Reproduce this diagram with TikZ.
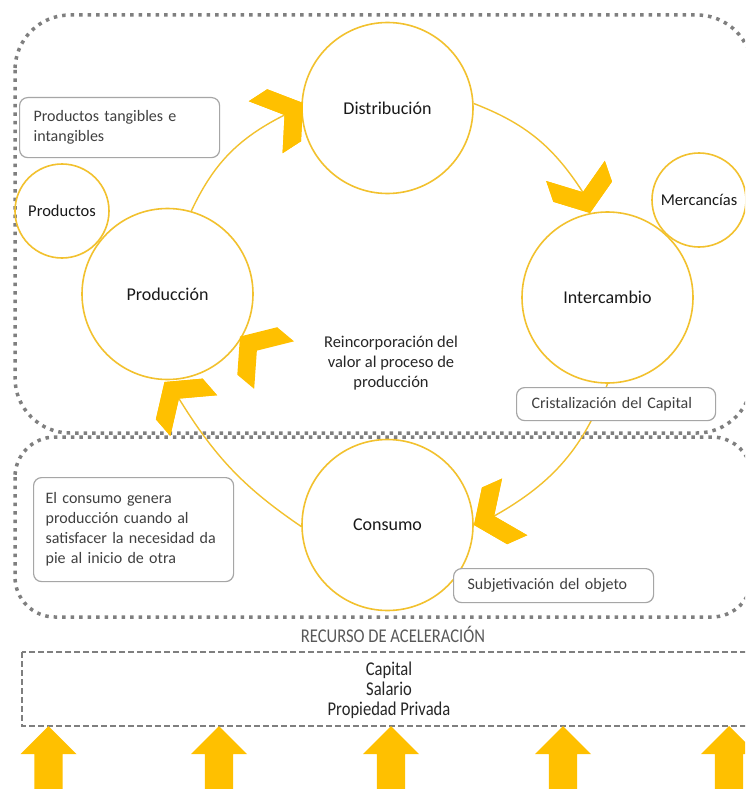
\documentclass[tikz,border=0pt]{standalone}
\usepackage{fontspec}
\setmainfont{Carlito}
\newfontfamily\condfont[FakeStretch=0.85]{Carlito}
\definecolor{gold}{HTML}{FFC000}
\definecolor{ring}{HTML}{F2C12E}
\definecolor{dotgray}{HTML}{7F7F7F}
\definecolor{notegray}{HTML}{A6A6A6}
\definecolor{txt}{HTML}{404040}
\begin{document}
\begin{tikzpicture}[x=1pt,y=-1pt,
  bigc/.style={circle, draw=ring, line width=1.6pt, minimum size=171pt, inner sep=0pt,
    font=\fontsize{18}{21}\selectfont, text=black!90},
  smallc/.style={circle, draw=ring, line width=1.6pt, minimum size=94pt, inner sep=0pt,
    font=\fontsize{16.5}{20}\selectfont, text=black!90},
  conn/.style={draw=ring, line width=1.4pt},
  note/.style={draw=notegray, line width=1.2pt, rounded corners=8pt, fill=white, align=left,
    font=\fontsize{16}{20}\selectfont, text=txt, anchor=north west},
  dotbox/.style={draw=dotgray, line width=3.5pt, dash pattern=on 3.5pt off 5pt},
  dashbox/.style={draw=dotgray, line width=1.3pt, dash pattern=on 6pt off 3pt},
  chev/.pic={\fill[gold] (0,0) -- (-22.5,31) -- (-44.5,31) -- (-22,0) -- (-44.5,-31) -- (-22.5,-31) -- cycle;
    \coordinate (-in) at (-22,0);},
  uparrow/.pic={\fill[gold] (0,0) -- (28,28) -- (14.2,28) -- (14.2,70) -- (-14.2,70) -- (-14.2,28) -- (-28,28) -- cycle;}
]
\path[use as bounding box, fill=white] (0,0) rectangle (745,789);
\clip (0,0) rectangle (745,789);

% dotted regions
\draw[dotbox, rounded corners=55pt] (15,15) rectangle (752,433);
\draw[dotbox, rounded corners=40pt] (15,437) rectangle (752,617);

% circles
\node[bigc] (dist) at (387.5,108) {Distribución};
\node[bigc] (prod) at (167.5,294) {Producción};
\node[bigc] (inter) at (607.5,297.5) {Intercambio};
\node[bigc] (cons) at (387.5,525) {Consumo};
\node[smallc] (prods) at (62,211) {Productos};
\node[smallc] (merc) at (699,200) {Mercancías};

% chevrons (positions)
\pic[rotate=33] (ch1) at (303,103) {chev};
\pic[rotate=-71] (ch2) at (590,213) {chev};
\pic[rotate=204] (ch3) at (474,525) {chev};
\pic[rotate=131] (ch4) at (164.5,382) {chev};

% connectors
\draw[conn] (prod.74) to[bend left=19] (ch1-in);
\draw[conn] (dist.3) to[bend left=18] (ch2-in);
\draw[conn] (inter.270) to[bend left=20] (ch3-in);
\draw[conn] (cons.181) to[bend left=12] (ch4-in);

% redraw chevrons on top of connectors
\pic[rotate=33] at (303,103) {chev};
\pic[rotate=-71] at (590,213) {chev};
\pic[rotate=204] at (474,525) {chev};
\pic[rotate=131] at (164.5,382) {chev};
\pic[rotate=140] (ch5) at (240,336.5) {chev};

% notes
\node[note, minimum width=200pt, minimum height=60pt, text width=172pt, inner xsep=14pt] (ptang) at (19,97)
  {Productos tangibles e\\intangibles};
\node[note, minimum width=199pt, minimum height=33pt, text width=169pt, inner xsep=15pt, inner ysep=0pt] (crist) at (516,387)
  {Cristalización del Capital};
\node[note, minimum width=200pt, minimum height=34pt, text width=172pt, inner xsep=14pt, inner ysep=0pt] (subj) at (453,568)
  {Subjetivación del objeto};
\node[note, minimum width=199pt, minimum height=104pt, text width=176pt, inner xsep=12pt] (econs) at (33,477)
  {El consumo genera\\producción cuando al\\satisfacer la necesidad da\\pie al inicio de otra};

\node[align=center, font=\fontsize{16.5}{20}\selectfont, text=black!85] (reinc) at (391,363)
  {Reincorporación del\\valor al proceso de\\producción};

% acceleration resource
\node[font=\condfont\fontsize{19.5}{20}\selectfont, text=black!65] (recurso) at (393,634) {RECURSO DE ACELERACIÓN};
\draw[dashbox] (22,652) rectangle (760,726);
\node[align=center, font=\condfont\fontsize{19.5}{20}\selectfont, text=black!85] (capital) at (389,690)
  {Capital\\Salario\\Propiedad Privada};

\foreach \cx in {48.5,219,391,563,729}{
  \pic at (\cx,726) {uparrow};
}
\end{tikzpicture}
\end{document}
